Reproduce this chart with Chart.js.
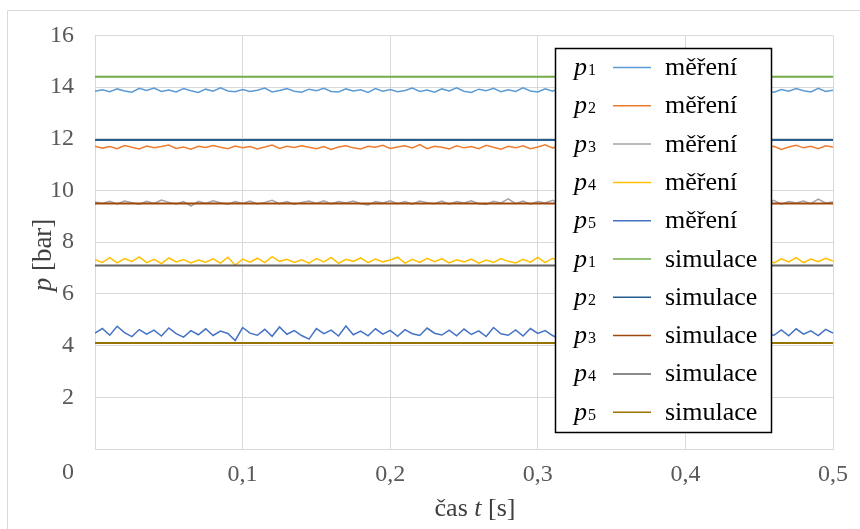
<!DOCTYPE html>
<html lang="cs">
<head>
<meta charset="utf-8">
<title>Průběh tlaků p1–p5: měření a simulace</title>
<script src="https://cdn.jsdelivr.net/npm/chart.js@4.4.1/dist/chart.umd.min.js"></script>
<style>
  html, body { margin: 0; padding: 0; background: #ffffff; }
  #wrap { width: 860px; height: 529px; }
</style>
</head>
<body>
<div id="wrap"><canvas id="chart" width="860" height="529"></canvas></div>
<script>
// Sample times of the measured records [s]
const timeS = [
  0.000,0.005,0.010,0.015,0.020,0.025,0.030,0.035,0.040,0.045,
  0.050,0.055,0.060,0.065,0.070,0.075,0.080,0.085,0.090,0.095,
  0.100,0.105,0.110,0.115,0.120,0.125,0.130,0.135,0.140,0.145,
  0.150,0.155,0.160,0.165,0.170,0.175,0.180,0.185,0.190,0.195,
  0.200,0.205,0.210,0.215,0.220,0.225,0.230,0.235,0.240,0.245,
  0.250,0.255,0.260,0.265,0.270,0.275,0.280,0.285,0.290,0.295,
  0.300,0.305,0.310,0.315,0.320,0.325,0.330,0.335,0.340,0.345,
  0.350,0.355,0.360,0.365,0.370,0.375,0.380,0.385,0.390,0.395,
  0.400,0.405,0.410,0.415,0.420,0.425,0.430,0.435,0.440,0.445,
  0.450,0.455,0.460,0.465,0.470,0.475,0.480,0.485,0.490,0.495,
  0.500
];

// Measured pressures [bar]
const p1Mereni = [
  13.84,13.90,13.82,13.93,13.85,13.80,13.95,13.87,13.96,13.83,
  13.89,13.81,13.94,13.86,13.79,13.92,13.84,13.97,13.85,13.82,
  13.91,13.83,13.88,13.96,13.81,13.87,13.94,13.84,13.80,13.92,
  13.86,13.95,13.83,13.81,13.93,13.85,13.90,13.79,13.94,13.84,
  13.91,13.82,13.87,13.96,13.83,13.89,13.80,13.93,13.85,13.97,
  13.84,13.79,13.92,13.86,13.95,13.82,13.90,13.83,13.97,13.85,
  13.81,13.93,13.84,13.95,13.86,13.80,13.91,13.96,13.83,13.87,
  13.94,13.81,13.90,13.84,13.97,13.85,13.79,13.92,13.83,13.95,
  13.86,13.81,13.94,13.84,13.90,13.97,13.82,13.87,13.93,13.83,
  13.96,13.85,13.80,13.91,13.84,13.94,13.86,13.81,13.95,13.83,
  13.88
];
const p2Mereni = [
  11.71,11.64,11.70,11.62,11.74,11.67,11.61,11.72,11.65,11.70,
  11.76,11.63,11.68,11.60,11.71,11.66,11.74,11.67,11.62,11.72,
  11.65,11.70,11.61,11.68,11.76,11.63,11.71,11.66,11.73,11.67,
  11.62,11.70,11.59,11.68,11.73,11.65,11.61,11.71,11.67,11.75,
  11.63,11.68,11.73,11.65,11.78,11.62,11.71,11.67,11.61,11.73,
  11.65,11.70,11.62,11.75,11.67,11.60,11.71,11.65,11.73,11.62,
  11.68,11.77,11.65,11.71,11.61,11.68,11.73,11.63,11.71,11.65,
  11.75,11.67,11.61,11.71,11.65,11.73,11.62,11.68,11.78,11.65,
  11.71,11.62,11.68,11.73,11.60,11.71,11.65,11.75,11.67,11.62,
  11.73,11.65,11.71,11.59,11.68,11.75,11.65,11.71,11.62,11.73,
  11.68
];
const p3Mereni = [
  9.56,9.50,9.58,9.48,9.59,9.53,9.47,9.58,9.50,9.63,
  9.54,9.48,9.57,9.40,9.58,9.50,9.60,9.53,9.47,9.57,
  9.50,9.59,9.48,9.54,9.62,9.49,9.57,9.46,9.54,9.59,
  9.50,9.60,9.48,9.57,9.52,9.59,9.49,9.44,9.57,9.52,
  9.60,9.49,9.57,9.47,9.59,9.53,9.49,9.59,9.47,9.57,
  9.52,9.60,9.49,9.46,9.58,9.52,9.68,9.49,9.59,9.47,
  9.57,9.52,9.62,9.49,9.59,9.47,9.54,9.61,9.49,9.57,
  9.46,9.59,9.53,9.49,9.60,9.47,9.57,9.52,9.64,9.49,
  9.59,9.47,9.57,9.41,9.53,9.60,9.49,9.57,9.47,9.59,
  9.53,9.49,9.62,9.47,9.57,9.52,9.59,9.49,9.67,9.52,
  9.56
];
const p4Mereni = [
  7.32,7.22,7.40,7.20,7.37,7.26,7.43,7.21,7.34,7.17,
  7.39,7.24,7.33,7.20,7.31,7.23,7.36,7.19,7.42,7.11,
  7.35,7.23,7.38,7.21,7.44,7.26,7.34,7.22,7.32,7.19,
  7.37,7.24,7.41,7.18,7.34,7.26,7.39,7.21,7.35,7.24,
  7.31,7.42,7.19,7.34,7.22,7.38,7.25,7.36,7.20,7.32,
  7.24,7.35,7.19,7.31,7.22,7.37,7.26,7.20,7.34,7.23,
  7.41,7.21,7.38,7.25,7.44,7.19,7.36,7.27,7.21,7.34,
  7.23,7.40,7.20,7.32,7.15,7.36,7.23,7.41,7.21,7.35,
  7.25,7.39,7.20,7.43,7.23,7.34,7.18,7.37,7.25,7.41,
  7.21,7.33,7.20,7.36,7.24,7.40,7.21,7.35,7.25,7.38,
  7.27
];
const p5Mereni = [
  4.48,4.66,4.40,4.75,4.50,4.35,4.62,4.44,4.60,4.37,
  4.68,4.46,4.33,4.58,4.42,4.65,4.39,4.56,4.47,4.20,
  4.70,4.48,4.40,4.63,4.36,4.72,4.44,4.58,4.39,4.25,
  4.66,4.46,4.60,4.37,4.76,4.42,4.56,4.38,4.65,4.44,
  4.59,4.36,4.62,4.46,4.39,4.68,4.48,4.41,4.60,4.38,
  4.64,4.43,4.57,4.35,4.70,4.46,4.40,4.61,4.37,4.66,
  4.47,4.58,4.39,4.26,4.68,4.43,4.60,4.38,4.63,4.46,
  4.56,4.40,4.73,4.42,4.58,4.36,4.65,4.47,4.39,4.62,
  4.44,4.57,4.38,4.67,4.46,4.31,4.64,4.42,4.59,4.37,
  4.70,4.47,4.40,4.61,4.38,4.65,4.44,4.57,4.39,4.63,
  4.48
];

// Simulated (steady) pressures [bar], start and end of the interval
const simTimeS = [0, 0.5];
const p1Simulace = [14.40, 14.40];
const p2Simulace = [11.95, 11.95];
const p3Simulace = [9.50, 9.50];
const p4Simulace = [7.10, 7.10];
const p5Simulace = [4.10, 4.10];

// Axis ticks
const xTicks = [0, 0.1, 0.2, 0.3, 0.4, 0.5];
const yTicks = [0, 2, 4, 6, 8, 10, 12, 14, 16];

// Legend rows: sensor index and kind
const legendIndex = ['1', '2', '3', '4', '5', '1', '2', '3', '4', '5'];
const legendKind = ['měření', 'měření', 'měření', 'měření', 'měření',
                    'simulace', 'simulace', 'simulace', 'simulace', 'simulace'];

const seriesColors = ['#5B9BD5', '#ED7D31', '#A5A5A5', '#FFC000', '#4472C4',
                      '#70AD47', '#255E91', '#9E480E', '#636363', '#997300'];

const SERIF = '"Liberation Serif", "Times New Roman", serif';

function zip(xs, ys) { return ys.map((y, i) => ({ x: xs[i], y: y })); }

const measured = [p1Mereni, p2Mereni, p3Mereni, p4Mereni, p5Mereni];
const simulated = [p1Simulace, p2Simulace, p3Simulace, p4Simulace, p5Simulace];

const datasets = [];
measured.forEach((vals, i) => datasets.push({
  label: 'p' + legendIndex[i] + ' ' + legendKind[i],
  data: zip(timeS, vals),
  borderColor: seriesColors[i],
  borderWidth: 1.5,
  pointRadius: 0,
  tension: 0,
  order: 2
}));
simulated.forEach((vals, i) => datasets.push({
  label: 'p' + legendIndex[5 + i] + ' ' + legendKind[5 + i],
  data: zip(simTimeS, vals),
  borderColor: seriesColors[5 + i],
  borderWidth: 2,
  pointRadius: 0,
  tension: 0,
  order: 1
}));

function commaNum(v) { return String(Math.round(v * 10) / 10).replace('.', ','); }

// White page, outer frame, axis titles and the lone "0" label
const decorPlugin = {
  id: 'decor',
  beforeDraw(chart) {
    const ctx = chart.ctx;
    ctx.save();
    ctx.fillStyle = '#ffffff';
    ctx.fillRect(0, 0, chart.width, chart.height);
    ctx.strokeStyle = '#d9d9d9';
    ctx.lineWidth = 1;
    ctx.beginPath();
    ctx.moveTo(7.5, chart.height);
    ctx.lineTo(7.5, 10.5);
    ctx.lineTo(chart.width, 10.5);
    ctx.stroke();
    ctx.restore();
  },
  afterDraw(chart) {
    const ctx = chart.ctx;
    const y = chart.scales.y;
    ctx.save();
    // "0" of the pressure axis
    ctx.fillStyle = '#595959';
    ctx.font = '24px ' + SERIF;
    ctx.textAlign = 'right';
    ctx.textBaseline = 'middle';
    ctx.fillText('0', y.right - 21, 473);

    // x title: čas t [s]
    ctx.fillStyle = '#404040';
    ctx.textBaseline = 'alphabetic';
    ctx.textAlign = 'left';
    const parts = [['čas ', ''], ['t', 'italic '], [' [s]', '']];
    let w = 0;
    parts.forEach(p => { ctx.font = p[1] + '26px ' + SERIF; w += ctx.measureText(p[0]).width; });
    let x = 475 - w / 2;
    parts.forEach(p => { ctx.font = p[1] + '26px ' + SERIF; ctx.fillText(p[0], x, 516); x += ctx.measureText(p[0]).width; });

    // y title: p [bar]
    ctx.translate(51, 255);
    ctx.rotate(-Math.PI / 2);
    const yparts = [['p', 'italic '], [' [bar]', '']];
    w = 0;
    yparts.forEach(p => { ctx.font = p[1] + '27px ' + SERIF; w += ctx.measureText(p[0]).width; });
    x = -w / 2;
    yparts.forEach(p => { ctx.font = p[1] + '27px ' + SERIF; ctx.fillText(p[0], x, 0); x += ctx.measureText(p[0]).width; });
    ctx.restore();
  }
};

// Boxed legend with italic p and subscript index
const boxLegendPlugin = {
  id: 'boxLegend',
  afterDraw(chart) {
    const ctx = chart.ctx;
    const box = { x: 555.5, y: 48.5, w: 216, h: 384 };
    ctx.save();
    ctx.fillStyle = '#ffffff';
    ctx.fillRect(box.x, box.y, box.w, box.h);
    ctx.strokeStyle = '#000000';
    ctx.lineWidth = 1.5;
    ctx.strokeRect(box.x, box.y, box.w, box.h);
    const rowH = 38.3;
    chart.data.datasets.forEach((ds, i) => {
      const cy = 67 + i * rowH;
      const base = cy + 8;
      ctx.fillStyle = '#000000';
      ctx.textAlign = 'left';
      ctx.textBaseline = 'alphabetic';
      ctx.font = 'italic 26px ' + SERIF;
      ctx.fillText('p', 574, base);
      const pw = ctx.measureText('p').width;
      ctx.font = '16px ' + SERIF;
      ctx.fillText(legendIndex[i], 574 + pw + 1, base);
      ctx.strokeStyle = ds.borderColor;
      ctx.lineWidth = 1.5;
      ctx.beginPath();
      ctx.moveTo(613, cy + 0.5);
      ctx.lineTo(651, cy + 0.5);
      ctx.stroke();
      ctx.font = '26px ' + SERIF;
      ctx.fillText(legendKind[i], 665, base);
    });
    ctx.restore();
  }
};

new Chart(document.getElementById('chart'), {
  type: 'line',
  data: { datasets: datasets },
  plugins: [decorPlugin, boxLegendPlugin],
  options: {
    responsive: false,
    animation: false,
    layout: { autoPadding: false, padding: { left: 7, top: 31, right: 27, bottom: 0 } },
    plugins: { legend: { display: false }, tooltip: { enabled: false } },
    scales: {
      x: {
        type: 'linear',
        min: 0,
        max: 0.5,
        afterFit: s => { s.height = 80; },
        afterBuildTicks: s => { s.ticks = xTicks.map(v => ({ value: v })); },
        grid: { color: '#d9d9d9', lineWidth: 1, drawTicks: false },
        border: { display: true, color: '#d9d9d9', width: 1 },
        ticks: {
          padding: 11,
          color: '#595959',
          font: { family: SERIF, size: 24 },
          maxRotation: 0,
          callback: v => (v === 0 ? '' : commaNum(v))
        }
      },
      y: {
        min: 0,
        max: 16,
        afterFit: s => { s.width = 88; },
        afterBuildTicks: s => { s.ticks = yTicks.map(v => ({ value: v })); },
        grid: { color: '#d9d9d9', lineWidth: 1, drawTicks: false },
        border: { display: true, color: '#d9d9d9', width: 1 },
        ticks: {
          padding: 21,
          color: '#595959',
          font: { family: SERIF, size: 24 },
          callback: v => (v === 0 ? '' : String(v))
        }
      }
    }
  }
});
</script>
</body>
</html>
